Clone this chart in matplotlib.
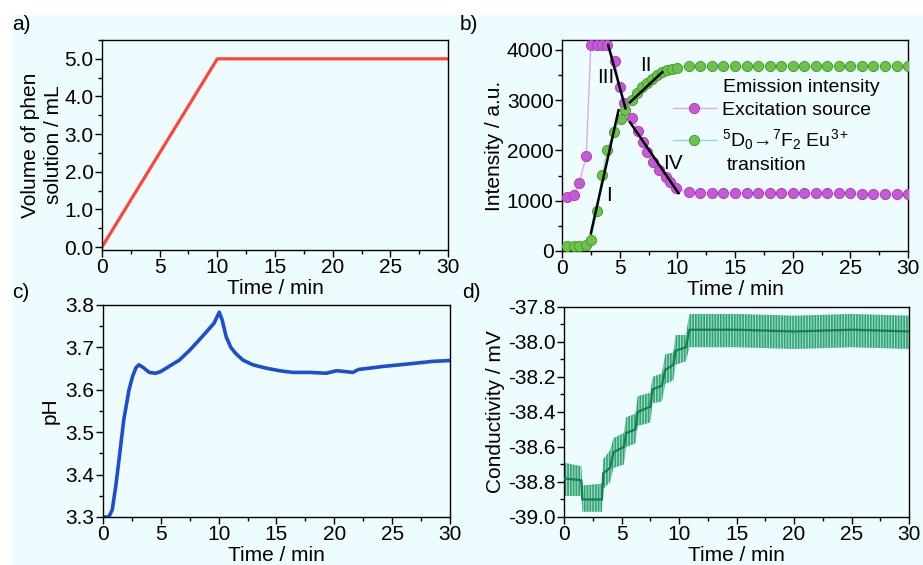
import matplotlib
matplotlib.use("Agg")
import matplotlib.pyplot as plt
from matplotlib.ticker import MultipleLocator, FormatStrFormatter
from matplotlib.patches import Rectangle

plt.rcParams['font.family'] = ['Liberation Sans', 'DejaVu Sans']
plt.rcParams['axes.unicode_minus'] = False
plt.rcParams['mathtext.fontset'] = 'custom'
plt.rcParams['mathtext.rm'] = 'Liberation Sans'
plt.rcParams['mathtext.it'] = 'Liberation Sans'
plt.rcParams['hatch.linewidth'] = 1.2

# a) volume of phen solution added
a_time = [0, 10, 30]
a_vol = [0.0, 5.0, 5.0]

# b) intensity
b_exc_time = [0.4, 1.0, 1.5, 2.1, 2.5, 3.0, 3.5, 3.9, 4.6, 5.0, 5.4, 6.1, 6.6, 7.0,
              7.4, 7.9, 8.4, 9.0, 9.4, 9.9, 11, 12, 13, 14, 15, 16, 17, 18, 19, 20,
              21, 22, 23, 24, 25, 26, 27, 28, 29, 30]
b_exc = [1080, 1110, 1355, 1895, 4100, 4100, 4100, 4100, 3790, 3255, 2950, 2640,
         2390, 2170, 1975, 1775, 1610, 1475, 1375, 1245, 1165, 1160, 1160, 1155,
         1155, 1150, 1150, 1150, 1150, 1150, 1145, 1145, 1145, 1145, 1145, 1140,
         1140, 1140, 1140, 1140]
b_em_time = [0.4, 1.0, 1.5, 2.1, 2.5, 3.0, 3.5, 3.9, 4.5, 5.1, 5.5, 6.1, 6.5, 6.9,
             7.4, 7.8, 8.2, 8.7, 9.1, 9.5, 10.0, 11, 12, 13, 14, 15, 16, 17, 18, 19,
             20, 21, 22, 23, 24, 25, 26, 27, 28, 29, 30]
b_em = [100, 100, 100, 125, 225, 800, 1510, 2005, 2360, 2625, 2815, 3005, 3150,
        3255, 3350, 3415, 3500, 3570, 3600, 3620, 3650, 3680, 3680, 3685, 3685,
        3685, 3685, 3685, 3680, 3680, 3685, 3680, 3685, 3680, 3680, 3685, 3680,
        3680, 3685, 3680, 3680]
# fitted segments I-IV: (x0, x1), (y0, y1)
b_fit_x = {'I': (2.5, 4.9), 'II': (5.9, 8.7), 'III': (4.0, 5.5), 'IV': (5.9, 10.1)}
b_fit_y = {'I': (350, 2800), 'II': (2960, 3560), 'III': (4100, 2840), 'IV': (2560, 1150)}
b_fit_lbl = {'I': (4.05, 1110), 'II': (7.25, 3700), 'III': (3.75, 3455), 'IV': (9.6, 1740)}

# c) pH
c_time = [0, 0.5, 0.8, 1.1, 1.45, 1.8, 2.25, 2.55, 2.85, 3.1, 3.45, 4.0, 4.55, 5.0,
          5.7, 6.6, 7.45, 8.3, 9.05, 9.6, 10.05, 10.3, 10.65, 11.05, 11.5, 12.1,
          12.95, 14.1, 15.25, 16.4, 17.85, 19.3, 20.2, 21.6, 22.1, 23.05, 24.2,
          25.7, 27.1, 28.5, 30]
c_ph = [3.300, 3.300, 3.317, 3.372, 3.450, 3.530, 3.600, 3.631, 3.652, 3.659, 3.653,
        3.641, 3.639, 3.643, 3.655, 3.670, 3.692, 3.717, 3.740, 3.757, 3.783, 3.765,
        3.725, 3.700, 3.685, 3.670, 3.659, 3.651, 3.645, 3.641, 3.641, 3.639, 3.645,
        3.641, 3.648, 3.651, 3.655, 3.659, 3.663, 3.667, 3.669]

# d) conductivity: mean trace with noise envelope
d_time = [0, 1.5, 1.6, 3.3, 3.4, 4.0, 4.3, 5.2, 5.4, 6.2, 6.4, 7.5, 7.7, 8.5, 8.8,
          9.5, 9.7, 10.6, 10.9, 15, 20, 25, 30]
d_mid = [-38.78, -38.79, -38.90, -38.90, -38.75, -38.72, -38.63, -38.60, -38.52,
         -38.50, -38.40, -38.37, -38.27, -38.25, -38.16, -38.13, -38.05, -38.03,
         -37.93, -37.93, -37.94, -37.93, -37.94]
d_high = [-38.69, -38.71, -38.82, -38.81, -38.67, -38.62, -38.55, -38.52, -38.43,
          -38.41, -38.31, -38.29, -38.20, -38.18, -38.07, -38.06, -37.96, -37.96,
          -37.84, -37.84, -37.85, -37.84, -37.85]
d_low = [-38.88, -38.88, -38.97, -38.97, -38.84, -38.80, -38.72, -38.70, -38.60,
         -38.58, -38.48, -38.46, -38.35, -38.34, -38.24, -38.22, -38.13, -38.11,
         -38.03, -38.03, -38.04, -38.03, -38.04]

bg = '#EEFCFF'
fig = plt.figure(figsize=(9.23, 5.65), dpi=100)
fig.patches.append(Rectangle((12 / 923, 0), 1, 1 - 15 / 565, transform=fig.transFigure,
                             facecolor=bg, edgecolor='none', zorder=-10))

fs = 15


def style(ax, xminor, yminor):
    ax.set_facecolor(bg)
    ax.set_xlim(0, 30)
    ax.xaxis.set_major_locator(MultipleLocator(5))
    ax.xaxis.set_minor_locator(MultipleLocator(xminor))
    ax.yaxis.set_minor_locator(MultipleLocator(yminor))
    ax.tick_params(which='both', direction='out', labelsize=fs, top=False, right=False,
                   pad=1)
    ax.tick_params(which='major', length=5, width=1)
    ax.tick_params(which='minor', length=3, width=1)
    for sp in ax.spines.values():
        sp.set_linewidth(1)
    ax.set_xlabel('Time / min', fontsize=fs, labelpad=1)


# a)
ax = fig.add_axes([0.1105, 0.5575, 0.3749, 0.3717])
style(ax, 2.5, 0.5)
ax.plot(a_time, a_vol, color='#FF4536', lw=2.3)
ax.set_ylim(-0.08, 5.5)
ax.yaxis.set_major_locator(MultipleLocator(1))
ax.yaxis.set_major_formatter(FormatStrFormatter('%.1f'))
ax.set_ylabel('Volume of phen\nsolution / mL', fontsize=fs, labelpad=1, linespacing=1.25)

# b)
ax = fig.add_axes([0.6089, 0.5558, 0.3749, 0.3735])
style(ax, 2.5, 500)
ax.plot(b_exc_time, b_exc, '-o', color='#DBA8F3', lw=1, ms=7.3,
        mfc='#C65AD6', mec='#A842BA', mew=0.7, label='Excitation source', zorder=3)
ax.plot(b_em_time, b_em, '-o', color='#86E2CC', lw=1, ms=7.3,
        mfc='#6CC24A', mec='#45A02E', mew=0.7,
        label=r'$^{5}$D$_{0}$→$^{7}$F$_{2}$ Eu$^{3+}$', zorder=3)
for k in b_fit_x:
    ax.plot(b_fit_x[k], b_fit_y[k], color='black', lw=1.8, zorder=4)
    ax.text(b_fit_lbl[k][0], b_fit_lbl[k][1], k, fontsize=fs, ha='center', va='center',
            zorder=5)
ax.set_ylim(0, 4200)
ax.yaxis.set_major_locator(MultipleLocator(1000))
ax.set_ylabel('Intensity / a.u.', fontsize=fs, labelpad=2)
ax.legend(loc='upper left', bbox_to_anchor=(0.32, 0.71), frameon=False, fontsize=14,
          borderpad=0, borderaxespad=0, handlelength=2.2, handletextpad=0.35,
          labelspacing=0.45)
ax.text(0.465, 0.777, 'Emission intensity', transform=ax.transAxes, fontsize=14,
        va='center', ha='left')
ax.text(0.477, 0.405, 'transition', transform=ax.transAxes, fontsize=14,
        va='center', ha='left')

# c)
ax = fig.add_axes([0.1116, 0.0850, 0.3759, 0.3752])
style(ax, 2.5, 0.05)
ax.plot(c_time, c_ph, color='#1E4ED0', lw=2.6)
ax.set_ylim(3.3, 3.8)
ax.yaxis.set_major_locator(MultipleLocator(0.1))
ax.yaxis.set_major_formatter(FormatStrFormatter('%.1f'))
ax.set_ylabel('pH', fontsize=fs, labelpad=4)

# d)
ax = fig.add_axes([0.6111, 0.0850, 0.3738, 0.3717])
style(ax, 2.5, 0.1)
ax.fill_between(d_time, d_low, d_high, facecolor='#A5DCC0', edgecolor='#2FA57C',
                hatch='||||||', lw=0, zorder=2)
ax.plot(d_time, d_mid, color='#17804A', lw=1.6, zorder=3)
ax.set_ylim(-39.0, -37.8)
ax.yaxis.set_major_locator(MultipleLocator(0.2))
ax.yaxis.set_major_formatter(FormatStrFormatter('%.1f'))
ax.set_ylabel('Conductivity / mV', fontsize=fs, labelpad=2)

# panel letters
for lbl, x, y in [('a)', 12, 25), ('b)', 460, 25), ('c)', 12, 293), ('d)', 462, 293)]:
    fig.text(x / 923, 1 - y / 565, lbl, fontsize=fs, ha='left', va='center')

fig.savefig('out.png', dpi=100, facecolor='white')
